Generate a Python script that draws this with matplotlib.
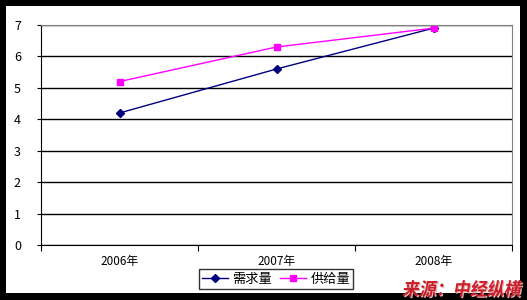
import matplotlib
matplotlib.use("Agg")
import matplotlib.pyplot as plt
from matplotlib.patches import Rectangle, PathPatch
from matplotlib.textpath import TextPath
from matplotlib.font_manager import FontProperties
from matplotlib.transforms import Affine2D, IdentityTransform

plt.rcParams['font.family'] = ['Noto Sans CJK SC', 'DejaVu Sans']

years = ['2006年', '2007年', '2008年']
demand = [4.2, 5.6, 6.9]
supply = [5.2, 6.3, 6.9]
labels = ['需求量', '供给量']
source = '来源：中经纵横'

W, H = 527, 300
fig = plt.figure(figsize=(W / 100, H / 100), dpi=100, facecolor='black')
fig.patches.append(Rectangle((6 / W, 7 / H), 514 / W, 287 / H, transform=fig.transFigure,
                             facecolor='white', edgecolor='none', zorder=-5))

ax = fig.add_axes([41 / W, 55 / H, 471 / W, 220 / H])
x = [0.5, 1.5, 2.5]
ax.plot(x, demand, color='#000080', marker='D', markersize=4, lw=1, label=labels[0])
ax.plot(x, supply, color='#ff00ff', marker='s', markersize=5, lw=1, label=labels[1])

ax.set_xlim(0, 3)
ax.set_ylim(0, 7)
ax.set_yticks(range(8))
ax.set_xticks([0, 1, 2, 3])
ax.set_xticklabels([])
ax.set_xticks(x, minor=True)
ax.set_xticklabels(years, minor=True)
ax.tick_params(axis='x', which='minor', length=0, pad=7, labelsize=8.5)
ax.tick_params(axis='x', which='major', length=4, direction='out', width=0.8)
ax.tick_params(axis='y', length=3, direction='out', width=0.8, labelsize=9, pad=14)
for t in ax.get_yticklabels():
    t.set_horizontalalignment('center')

ax.yaxis.grid(True, color='black', lw=1)
ax.set_axisbelow(True)
for s in ['left', 'bottom']:
    ax.spines[s].set_color('black')
for s in ['top', 'right']:
    ax.spines[s].set_color('#808080')

leg = fig.legend(loc='center', bbox_to_anchor=(276 / W, 21 / H), ncol=2, frameon=True,
                 fancybox=False, edgecolor='black', fontsize=9.5, handlelength=2.0,
                 columnspacing=0.6, handletextpad=0.3, borderpad=0.25, borderaxespad=0)
leg.get_frame().set_linewidth(1)

# source note: bold, slanted, with a faint shadow
tp = TextPath((0, 0), source, size=17, prop=FontProperties(family='Noto Sans CJK SC', weight='bold'))
ext = tp.get_extents()
sx = 118 / ext.width
sy = 17 / ext.height
base = Affine2D().translate(-ext.x0, -ext.y0).scale(sx, sy).skew_deg(10, 0)
for dx, dy, col, z in [(1.2, -1.2, '#e8b0b0', 5), (0, 0, '#c8202a', 6)]:
    tr = base + Affine2D().translate(402 + dx, 3 + dy) + IdentityTransform()
    fig.patches.append(PathPatch(tp, transform=tr, facecolor=col, edgecolor='none', zorder=z))

fig.savefig('out.png', dpi=100, facecolor='black')
